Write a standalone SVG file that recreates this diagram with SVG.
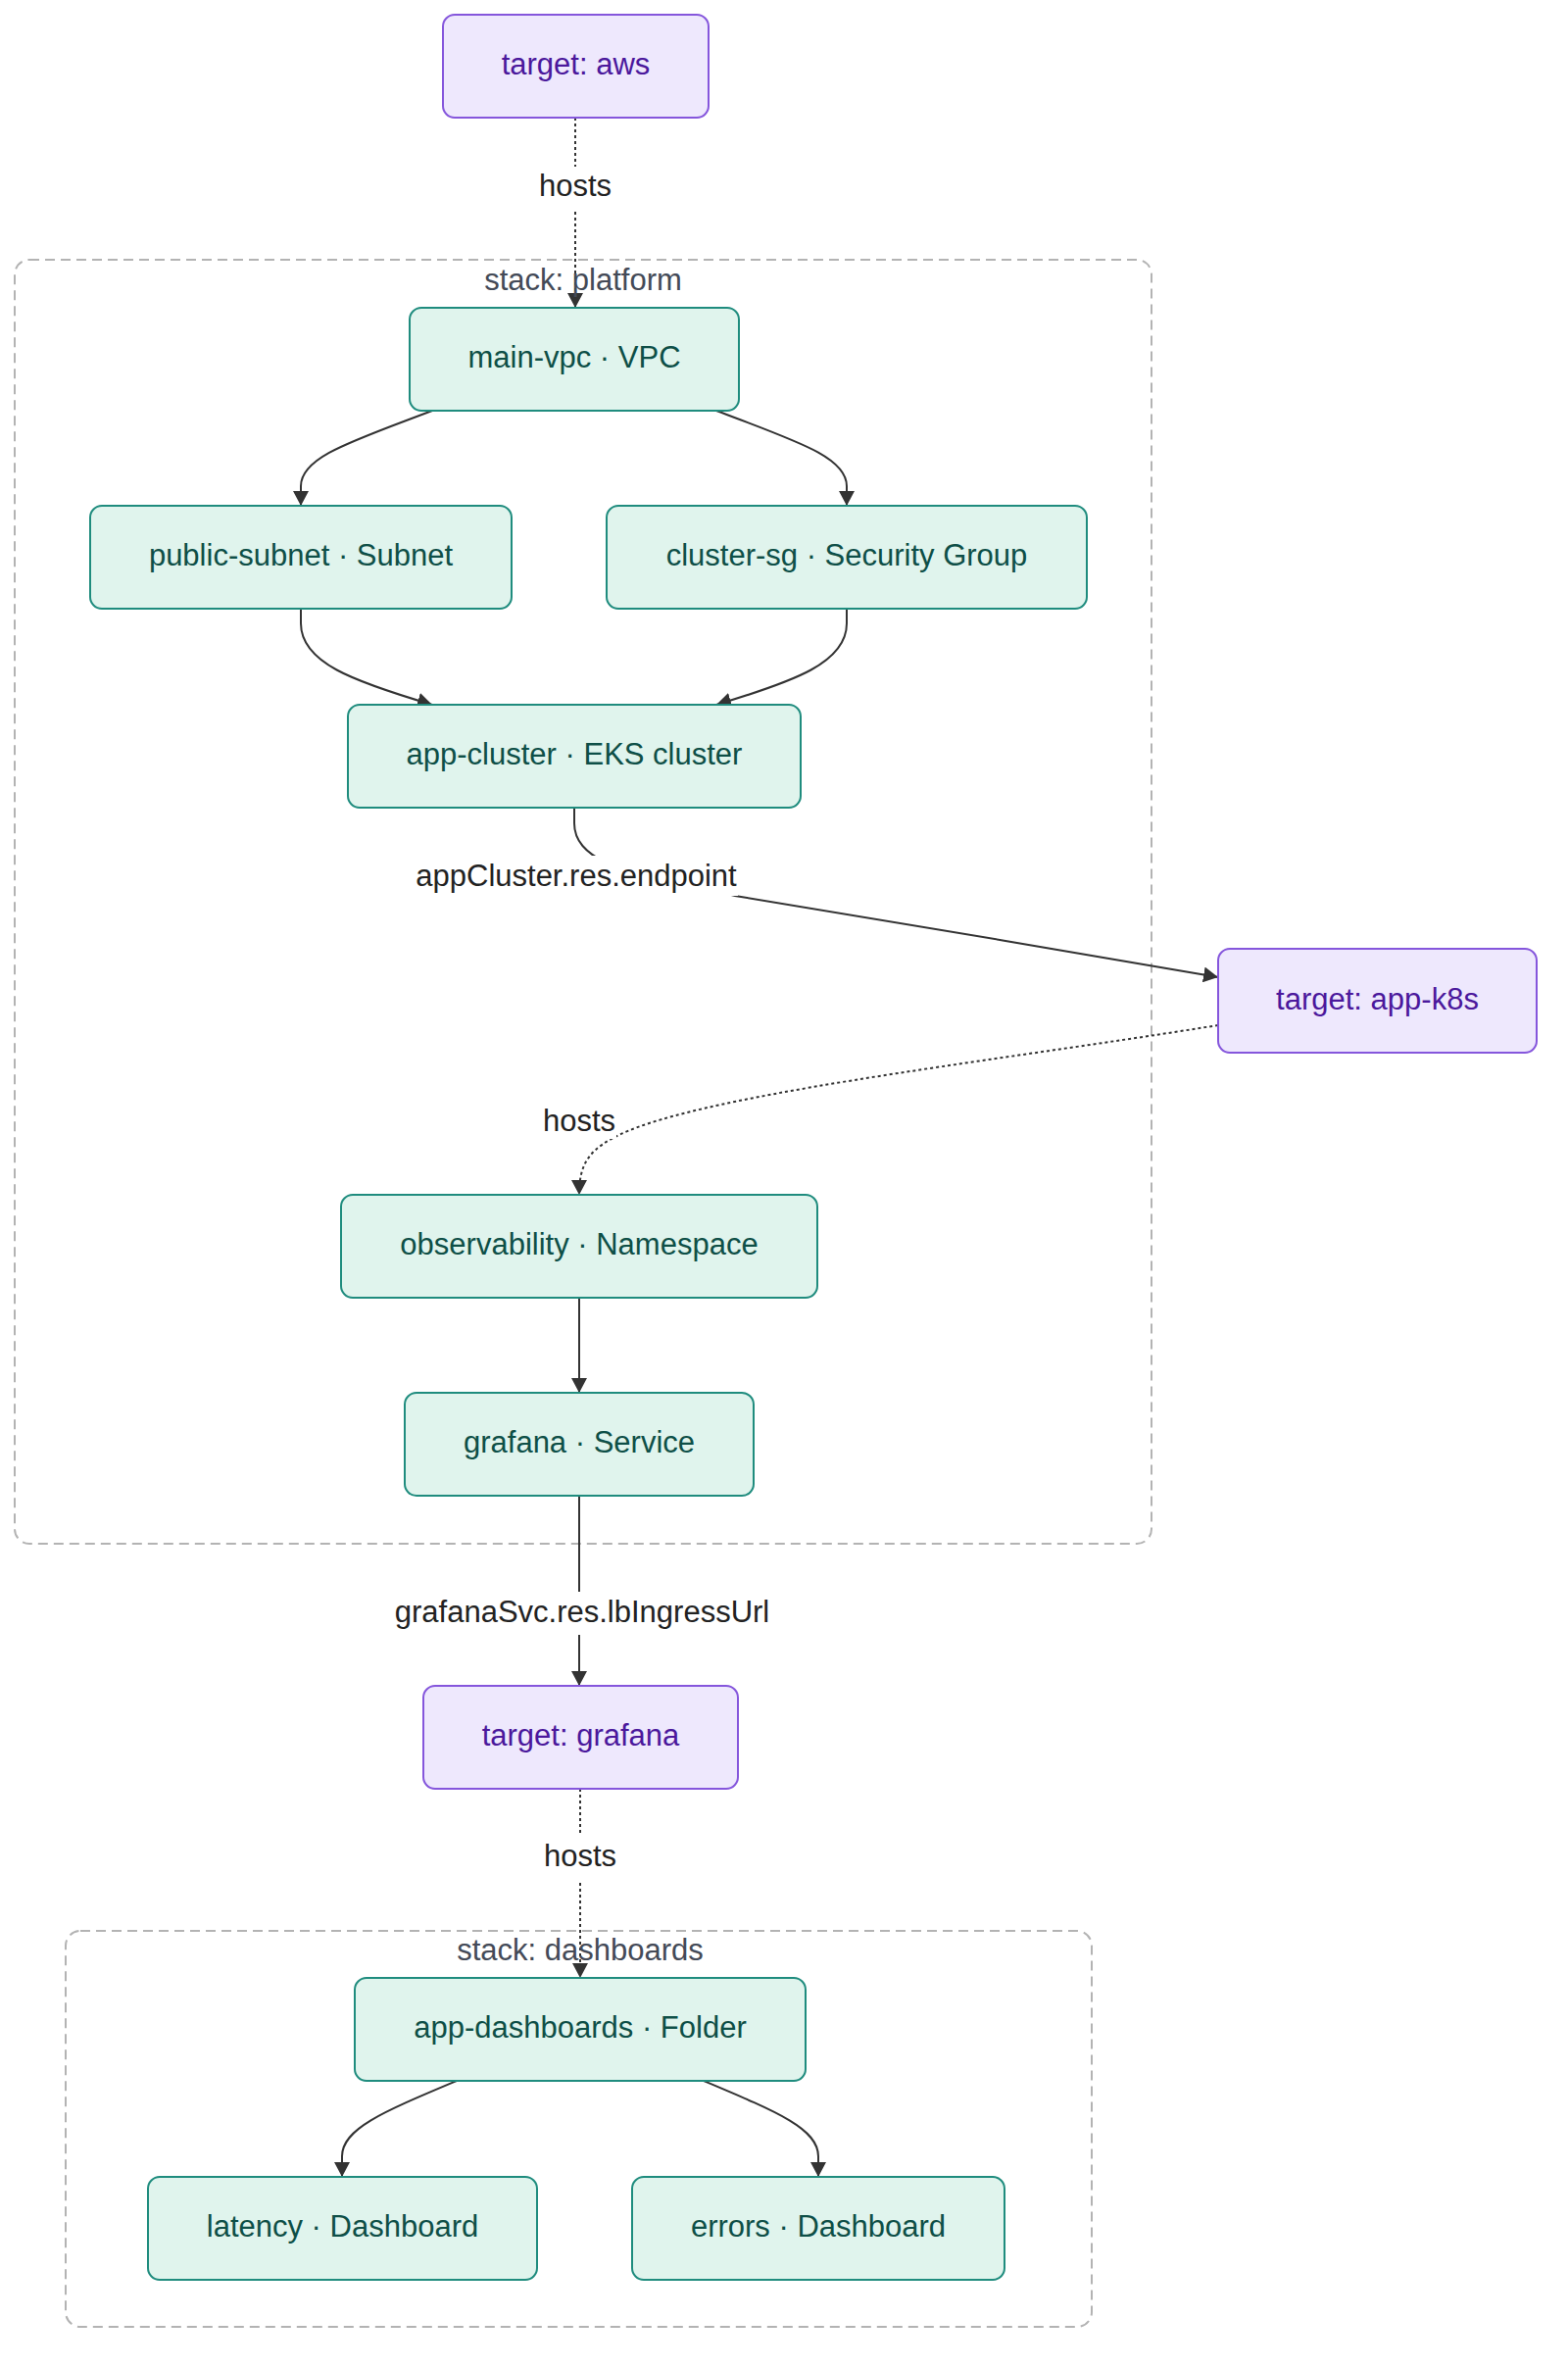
<svg xmlns="http://www.w3.org/2000/svg" width="1600" height="2416" viewBox="0 0 1600 2416">
<defs>
<marker id="arrow" markerUnits="userSpaceOnUse" markerWidth="16" markerHeight="16" refX="15" refY="8" orient="auto">
<path d="M0,0 L15,8 L0,16 z" fill="#333333"/>
</marker>
<style>
text { font-family: "Liberation Sans", Arial, sans-serif; font-size: 31px; text-anchor: middle; }
.cluster rect { fill: none; stroke: #b3b3b3; stroke-width: 2; stroke-dasharray: 10 6; }
.cluster text { fill: #444a57; }
.res rect { fill: #e0f4ed; stroke: #1f8c7e; stroke-width: 2; }
.res text { fill: #0e4f47; }
.tgt rect { fill: #eee8fd; stroke: #8556dc; stroke-width: 2; }
.tgt text { fill: #4b189c; }
.edge { fill: none; stroke: #333333; stroke-width: 2; }
.dot { stroke-dasharray: 3 3; }
.lbl rect { fill: #ffffff; }
.lbl text { fill: #222222; }
</style>
</defs>
<rect x="0" y="0" width="1600" height="2416" fill="#ffffff"/>

<g id="cluster-platform" class="cluster">
<rect x="15" y="265" width="1160" height="1310" rx="15"/>
</g>
<g id="cluster-dashboards" class="cluster">
<rect x="67" y="1970" width="1047" height="404" rx="15"/>
</g>

<g id="connectors">
<path class="edge dot" d="M587,120 L587,314" marker-end="url(#arrow)"/>
<path class="edge" d="M441,419 C360,450 307,466 307,496 L307,516" marker-end="url(#arrow)"/>
<path class="edge" d="M731,419 C812,450 864,466 864,496 L864,516" marker-end="url(#arrow)"/>
<path class="edge" d="M307,621 L307,636 C307,676 360,695 441,719" marker-end="url(#arrow)"/>
<path class="edge" d="M864,621 L864,636 C864,676 811,695 731,719" marker-end="url(#arrow)"/>
<path class="edge" d="M586,824 L586,840 C586,858 598,870 618,880 L750,914 C860,932 1100,972 1243,997" marker-end="url(#arrow)"/>
<path class="edge dot" d="M1243,1046 C1000,1085 700,1118 624,1162 C598,1176 591,1192 591,1219" marker-end="url(#arrow)"/>
<path class="edge" d="M591,1324 L591,1421" marker-end="url(#arrow)"/>
<path class="edge" d="M591,1526 L591,1720" marker-end="url(#arrow)"/>
<path class="edge dot" d="M592,1825 L592,2018" marker-end="url(#arrow)"/>
<path class="edge" d="M466,2123 C390,2155 349,2172 349,2200 L349,2221" marker-end="url(#arrow)"/>
<path class="edge" d="M718,2123 C794,2155 835,2172 835,2200 L835,2221" marker-end="url(#arrow)"/>

<g class="lbl" id="lbl-hosts-1">
<rect x="547" y="170" width="80" height="45"/>
<text x="587" y="200">hosts</text>
</g>
<g class="lbl" id="lbl-endpoint">
<rect x="417" y="873" width="336" height="41"/>
<text x="588" y="904">appCluster.res.endpoint</text>
</g>
<g class="lbl" id="lbl-hosts-2">
<rect x="553" y="1124" width="76" height="38"/>
<text x="591" y="1154">hosts</text>
</g>
<g class="lbl" id="lbl-lbingress">
<rect x="397" y="1624" width="392" height="44"/>
<text x="594" y="1655">grafanaSvc.res.lbIngressUrl</text>
</g>
<g class="lbl" id="lbl-hosts-3">
<rect x="552" y="1873" width="80" height="46"/>
<text x="592" y="1904">hosts</text>
</g>
</g>

<g id="cluster-platform-label" class="cluster"><text x="595" y="296">stack: platform</text></g>
<g id="cluster-dashboards-label" class="cluster"><text x="592" y="2000">stack: dashboards</text></g>

<g id="node-aws" class="tgt">
<rect x="452" y="15" width="271" height="105" rx="12"/>
<text x="587.5" y="76">target: aws</text>
</g>
<g id="node-main-vpc" class="res">
<rect x="418" y="314" width="336" height="105" rx="12"/>
<text x="586" y="375">main-vpc · VPC</text>
</g>
<g id="node-public-subnet" class="res">
<rect x="92" y="516" width="430" height="105" rx="12"/>
<text x="307" y="577">public-subnet · Subnet</text>
</g>
<g id="node-cluster-sg" class="res">
<rect x="619" y="516" width="490" height="105" rx="12"/>
<text x="864" y="577">cluster-sg · Security Group</text>
</g>
<g id="node-app-cluster" class="res">
<rect x="355" y="719" width="462" height="105" rx="12"/>
<text x="586" y="780">app-cluster · EKS cluster</text>
</g>
<g id="node-app-k8s" class="tgt">
<rect x="1243" y="968" width="325" height="106" rx="12"/>
<text x="1405.5" y="1029.5">target: app-k8s</text>
</g>
<g id="node-observability" class="res">
<rect x="348" y="1219" width="486" height="105" rx="12"/>
<text x="591" y="1280">observability · Namespace</text>
</g>
<g id="node-grafana-svc" class="res">
<rect x="413" y="1421" width="356" height="105" rx="12"/>
<text x="591" y="1482">grafana · Service</text>
</g>
<g id="node-target-grafana" class="tgt">
<rect x="432" y="1720" width="321" height="105" rx="12"/>
<text x="592.5" y="1781">target: grafana</text>
</g>
<g id="node-app-dashboards" class="res">
<rect x="362" y="2018" width="460" height="105" rx="12"/>
<text x="592" y="2079">app-dashboards · Folder</text>
</g>
<g id="node-latency" class="res">
<rect x="151" y="2221" width="397" height="105" rx="12"/>
<text x="349.5" y="2282">latency · Dashboard</text>
</g>
<g id="node-errors" class="res">
<rect x="645" y="2221" width="380" height="105" rx="12"/>
<text x="835" y="2282">errors · Dashboard</text>
</g>
</svg>
